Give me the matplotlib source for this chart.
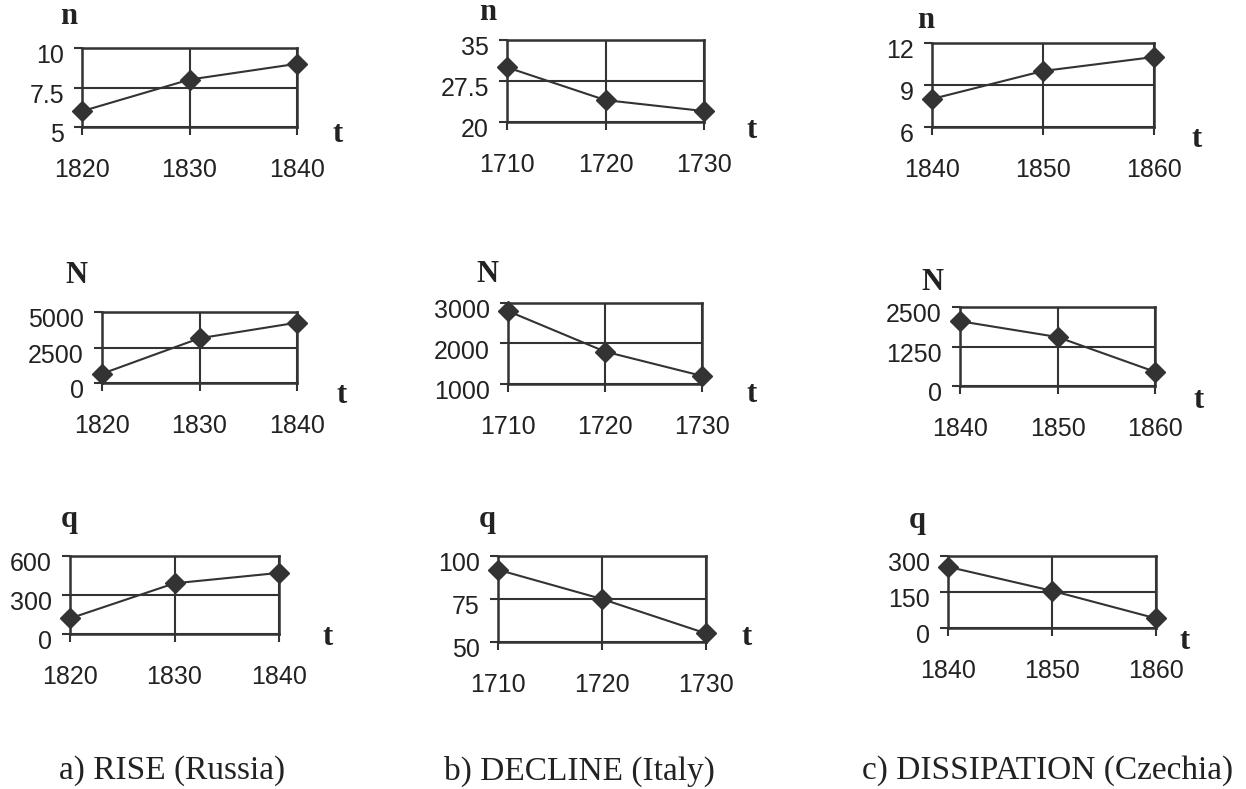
import matplotlib
matplotlib.use("Agg")
import matplotlib.pyplot as plt
from matplotlib.transforms import ScaledTranslation

# years per column
years_rise = [1820, 1830, 1840]
years_decline = [1710, 1720, 1730]
years_dissipation = [1840, 1850, 1860]

# n values
n_rise = [6, 8, 9]
n_decline = [30, 24, 22]
n_dissipation = [8, 10, 11]

# N values
N_rise = [650, 3150, 4250]
N_decline = [2800, 1800, 1200]
N_dissipation = [2050, 1550, 450]

# q values
q_rise = [120, 390, 470]
q_decline = [92, 75, 55]
q_dissipation = [255, 155, 40]

# y ticks and labels per panel
yticks = {
    "n_rise": ([5, 7.5, 10], ["5", "7.5", "10"]),
    "n_decline": ([20, 27.5, 35], ["20", "27.5", "35"]),
    "n_dissipation": ([6, 9, 12], ["6", "9", "12"]),
    "N_rise": ([0, 2500, 5000], ["0", "2500", "5000"]),
    "N_decline": ([1000, 2000, 3000], ["1000", "2000", "3000"]),
    "N_dissipation": ([0, 1250, 2500], ["0", "1250", "2500"]),
    "q_rise": ([0, 300, 600], ["0", "300", "600"]),
    "q_decline": ([50, 75, 100], ["50", "75", "100"]),
    "q_dissipation": ([0, 150, 300], ["0", "150", "300"]),
}

captions = ["a) RISE (Russia)", "b) DECLINE (Italy)", "c) DISSIPATION (Czechia)"]

W, H = 1246, 789
fig = plt.figure(figsize=(W / 100, H / 100), dpi=100)
fig.patch.set_facecolor("white")

DARK = "#333333"


def box(left, right, top, bottom):
    return [left / W, 1 - bottom / H, (right - left) / W, (bottom - top) / H]


def fig_text(x, y, s, **kw):
    fig.text(x / W, 1 - y / H, s, **kw)


panels = [
    # key, years, values, axes box, letter, letter pos, t pos
    ("n_rise", years_rise, n_rise, box(82, 297, 48, 127), "n", (69, 24), (338, 142)),
    ("n_decline", years_decline, n_decline, box(507, 704, 40, 122), "n", (488, 20), (752, 138)),
    ("n_dissipation", years_dissipation, n_dissipation, box(932, 1154, 43, 127), "n", (926, 28), (1197, 147)),
    ("N_rise", years_rise, N_rise, box(102, 297, 312, 383), "N", (76, 283), (342, 403)),
    ("N_decline", years_decline, N_decline, box(508, 702, 303, 384), "N", (487, 282), (752, 402)),
    ("N_dissipation", years_dissipation, N_dissipation, box(960, 1155, 307, 386), "N", (932, 290), (1199, 408)),
    ("q_rise", years_rise, q_rise, box(70, 279, 556, 634), "q", (69, 527), (328, 645)),
    ("q_decline", years_decline, q_decline, box(498, 706, 556, 642), "q", (487, 527), (747, 645)),
    ("q_dissipation", years_dissipation, q_dissipation, box(948, 1156, 556, 628), "q", (917, 528), (1185, 649)),
]

for key, years, values, rect, letter, lpos, tpos in panels:
    ax = fig.add_axes(rect)
    ax.plot(years, values, color=DARK, lw=1.5, marker="D", ms=10,
            mfc=DARK, mec=DARK, clip_on=False, zorder=5)
    ticks, labels = yticks[key]
    ax.set_xlim(years[0], years[-1])
    ax.set_ylim(ticks[0], ticks[-1])
    ax.set_xticks(years)
    ax.set_xticklabels([str(y) for y in years])
    ax.set_yticks(ticks)
    ax.set_yticklabels(labels)
    ax.grid(True, color=DARK, lw=1.5)
    ax.set_axisbelow(True)
    for sp in ax.spines.values():
        sp.set_color(DARK)
        sp.set_linewidth(1.8)
    ax.tick_params(axis="x", direction="out", length=6, width=1.5, color=DARK,
                   pad=16, labelsize=18, labelcolor="#222222")
    ax.tick_params(axis="y", direction="out", length=6, width=1.5, color=DARK,
                   pad=7, labelsize=18, labelcolor="#222222")
    for lab in ax.get_xticklabels() + ax.get_yticklabels():
        lab.set_fontfamily("Liberation Sans")
    for lab in ax.get_yticklabels():
        lab.set_transform(lab.get_transform() + ScaledTranslation(0, -4 / 72, fig.dpi_scale_trans))

    fig_text(lpos[0], lpos[1], letter, ha="center", va="baseline",
             fontsize=22, fontweight="bold", family="Liberation Serif", color="#222222")
    fig_text(tpos[0], tpos[1], "t", ha="center", va="baseline",
             fontsize=22, fontweight="bold", family="Liberation Serif", color="#222222")

for cx, cap in zip([172, 579, 1048], captions):
    fig_text(cx, 771, cap, ha="center", va="center", fontsize=24,
             family="Liberation Serif", color="#222222")

fig.savefig("out.png", dpi=100, facecolor="white")
